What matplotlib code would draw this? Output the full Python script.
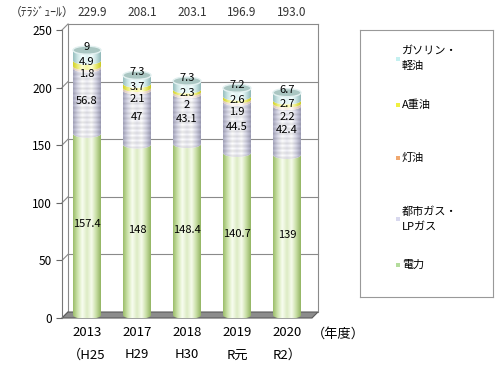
import matplotlib
matplotlib.use("Agg")
import matplotlib.pyplot as plt
import matplotlib.transforms as mtransforms
import numpy as np
from matplotlib.colors import LinearSegmentedColormap
from matplotlib.patches import Ellipse, PathPatch, Polygon, Rectangle
from matplotlib.path import Path

plt.rcParams['font.family'] = ['Noto Sans CJK JP', 'DejaVu Sans']

# data (テラジュール)
years = ["2013\n（H25", "2017\nH29", "2018\nH30", "2019\nR元", "2020\nR2）"]
denryoku = [157.4, 148, 148.4, 140.7, 139]
toshigas = [56.8, 47, 43.1, 44.5, 42.4]
touyu = [1.8, 2.1, 2, 1.9, 2.2]
a_juyu = [4.9, 3.7, 2.3, 2.6, 2.7]
gasoline = [9, 7.3, 7.3, 7.2, 6.7]
totals = [229.9, 208.1, 203.1, 196.9, 193.0]

# bottom -> top stacking order
stack = [denryoku, toshigas, touyu, a_juyu, gasoline]
# horizontal shading across each cylinder, left edge -> right edge
shades = [["#9cbd6c", "#cfe5ae", "#f8fdf0", "#dcebc4", "#f6fbec", "#c9dfa6", "#94b564"],
          ["#aeaec6", "#dedeec", "#ffffff", "#eeeef6", "#ffffff", "#d8d8e8", "#a4a4bc"],
          ["#d8c0b0", "#eee0d6", "#fffaf6", "#f6ece4", "#fffaf6", "#ead8cc", "#d0b8a8"],
          ["#d2d22a", "#ecec78", "#ffffd4", "#f6f6a0", "#ffffd4", "#e8e870", "#caca24"],
          ["#98c0c0", "#cde6e6", "#f4ffff", "#e0f2f2", "#f4ffff", "#c8e2e2", "#90b8b8"]]
legend_items = [("ガソリン・\n軽油", "#c4f0f0", 59),
                ("A重油", "#f0f040", 105),
                ("灯油", "#f0a870", 158),
                ("都市ガス・\nLPガス", "#d8d8ee", 219),
                ("電力", "#b4dc9c", 265)]

W, H = 500, 369
fig = plt.figure(figsize=(W / 100, H / 100), dpi=100)
ax = fig.add_axes([62 / W, 51 / H, 250 / W, 288 / H])

x = np.arange(len(years))
bw = 0.56      # cylinder width (data units)
eh = 7.0       # ellipse height (data units)
dx, dy = 0.12, 5.2   # depth offset of back wall
base = dy / 2

# walls / floor
for v in [50, 100, 150, 200, 250]:
    ax.plot([-0.5 + dx, 4.5 + dx], [v + dy, v + dy], color="#8a8a8a", lw=0.8, clip_on=False, zorder=1)
for v in [0, 50, 100, 150, 200, 250]:
    ax.plot([-0.5, -0.5 + dx], [v, v + dy], color="#8a8a8a", lw=0.8, clip_on=False, zorder=1)
ax.plot([-0.5 + dx, -0.5 + dx], [dy, 250 + dy], color="#8a8a8a", lw=0.8, clip_on=False, zorder=1)
ax.plot([4.5 + dx, 4.5 + dx], [dy, 250 + dy], color="#8a8a8a", lw=0.8, clip_on=False, zorder=1)
ax.add_patch(Polygon([(-0.5, 0), (4.5, 0), (4.5 + dx, dy), (-0.5 + dx, dy)], closed=True,
                     facecolor="#8c8c8c", edgecolor="#5a5a5a", lw=0.8, clip_on=False, zorder=1.5))


def seg_path(c, y0, y1):
    th = np.linspace(np.pi, 2 * np.pi, 40)
    lo = np.column_stack([c + bw / 2 * np.cos(th), y0 + eh / 2 * np.sin(th)])
    hi = np.column_stack([c + bw / 2 * np.cos(th[::-1]), y1 + eh / 2 * np.sin(th[::-1])])
    verts = np.vstack([lo, hi, lo[:1]])
    codes = [Path.MOVETO] + [Path.LINETO] * (len(verts) - 2) + [Path.CLOSEPOLY]
    return Path(verts, codes)


prof = np.linspace(0, 1, 80)

for i, c in enumerate(x):
    y0 = base
    for k, series in enumerate(stack):
        v = series[i]
        y1 = y0 + v
        cmap = LinearSegmentedColormap.from_list("s%d" % k, shades[k])
        rgb = cmap(prof)[:, :3]
        if k == 1:
            nrows = max(2, int(v * 1.15 / 2.2))
            img = np.tile(rgb, (nrows, 1, 1))
            img[::2] *= 0.9
        else:
            img = rgb[None, :, :]
        im = ax.imshow(img, extent=[c - bw / 2, c + bw / 2, y0 - eh / 2, y1], origin="lower",
                       aspect="auto", zorder=3, interpolation="bilinear")
        pp = PathPatch(seg_path(c, y0, y1), transform=ax.transData, facecolor="none", edgecolor="none")
        ax.add_patch(pp)
        im.set_clip_path(pp)
        y0 = y1
    ax.add_patch(Ellipse((c, y0), bw, eh, facecolor="#aac6c2", edgecolor="#e2f0f0", lw=1.0, zorder=4, clip_on=False))

    top = base + totals[i]
    kw = dict(ha="center", va="center", fontsize=8, color="black", zorder=5, clip_on=False)
    ax.text(c, base + denryoku[i] / 2, f"{denryoku[i]:g}", **kw)
    ax.text(c, base + denryoku[i] + toshigas[i] / 2, f"{toshigas[i]:g}", **kw)
    ax.text(c, top - 21, f"{touyu[i]:g}", **kw)
    ax.text(c, top - 10, f"{a_juyu[i]:g}", **kw)
    ax.text(c, top + 2.5, f"{gasoline[i]:g}", **kw)

ax.set_xlim(-0.5, 4.5)
ax.set_ylim(0, 250)
ax.set_yticks([0, 50, 100, 150, 200, 250])
ax.set_xticks(x)
ax.set_xticklabels(years, fontsize=9.5, linespacing=1.9)
ax.tick_params(axis="x", length=0, pad=6)
ax.tick_params(axis="y", labelsize=8.5, length=4, color="#666666", pad=3)
for s in ["top", "right", "bottom"]:
    ax.spines[s].set_visible(False)
ax.spines["left"].set_color("#777777")
ax.spines["left"].set_linewidth(0.8)
ax.patch.set_alpha(0)

ax.text(1.0, -0.055, "（年度）", transform=ax.transAxes, ha="left", va="center", fontsize=9.5)

# header
trans = mtransforms.blended_transform_factory(ax.transData, fig.transFigure)
fig.text(10 / W, 1 - 12 / H, "（ﾃﾗｼﾞｭｰﾙ）", ha="left", va="center", fontsize=8.5, color="#333333")
for i, c in enumerate(x):
    ax.text(c + 0.1, 1 - 12 / H, f"{totals[i]:.1f}", transform=trans, ha="center", va="center",
            fontsize=8.5, color="#333333")

# legend box
lax = fig.add_axes([360 / W, (H - 297) / H, 133 / W, 267 / H])
lax.set_xlim(360, 493)
lax.set_ylim(297, 30)
lax.set_xticks([])
lax.set_yticks([])
for s in lax.spines.values():
    s.set_color("#999999")
    s.set_linewidth(0.8)
for label, col, yc in legend_items:
    lax.add_patch(Rectangle((395.5, yc - 2), 4, 4, facecolor=col, edgecolor="none"))
    lax.text(402, yc, label, ha="left", va="center", fontsize=8, linespacing=1.6)

fig.savefig("out.png", dpi=100)
